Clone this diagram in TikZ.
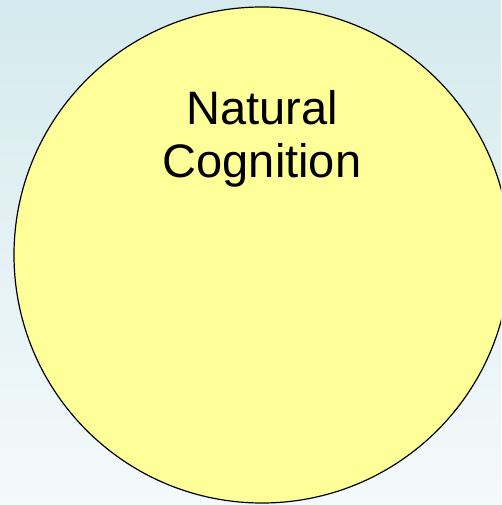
\documentclass[tikz,border=0pt]{standalone}
\usepackage{fontspec}
\setmainfont{Liberation Sans}
\usepackage{tikz}
\usetikzlibrary{positioning}
\definecolor{SkyTop}{RGB}{213,234,238}
\definecolor{SkyBottom}{RGB}{244,249,251}
\definecolor{PaleYellow}{RGB}{255,255,153}

\begin{document}
\begin{tikzpicture}[x=1pt, y=1pt,
		blob/.style={draw=black, line width=1.2pt, fill=PaleYellow},
		word/.style={font=\fontsize{47}{52}\selectfont, inner sep=0pt, anchor=base}]
	\useasboundingbox (0,0) rectangle (501,-505);
	\clip (0,0) rectangle (501,-505);
	\shade[top color=SkyTop, bottom color=SkyBottom] (0,0) rectangle (501,-505);
	\coordinate (C) at (262,-255);
	\draw[blob] (C) circle (248);
	\node[word] (natural) at (262,-125) {Natural};
	\node[word] (cognition) at (262,-177) {Cognition};
\end{tikzpicture}
\end{document}
